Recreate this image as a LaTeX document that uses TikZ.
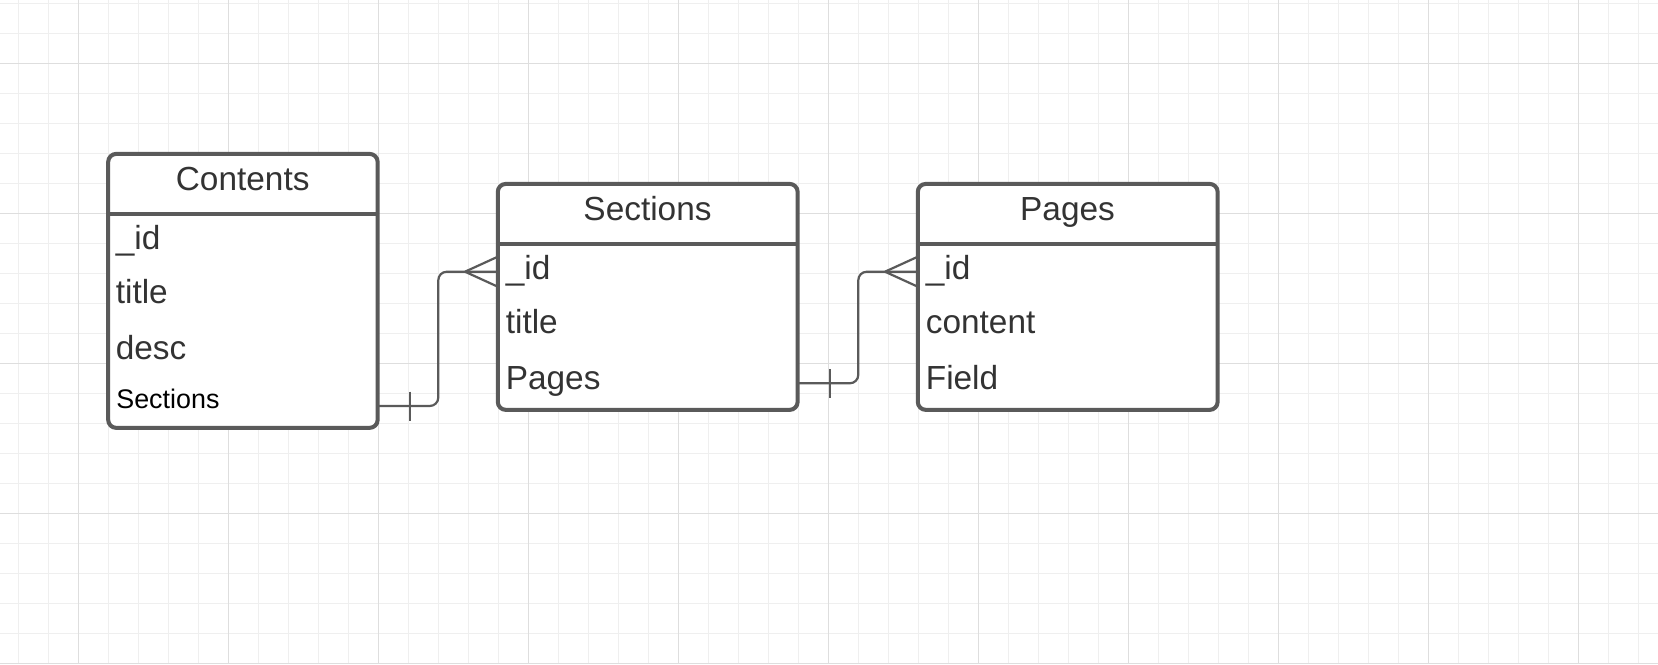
\documentclass[tikz,border=0pt]{standalone}
\usepackage{fontspec}
\setmainfont{Liberation Sans}
\definecolor{gridminor}{HTML}{EFEFEF}
\definecolor{gridmajor}{HTML}{DEDEDE}
\definecolor{edge}{HTML}{5A5A5A}
\definecolor{txt}{HTML}{333333}
\begin{document}
\begin{tikzpicture}[x=0.02cm,y=-0.02cm,
  minorline/.style={draw=gridminor,line width=0.57pt},
  majorline/.style={draw=gridmajor,line width=0.7pt},
  ebox/.style={draw=edge,line width=2.3pt,rounded corners=0.16cm,fill=white,inner sep=0pt,outer sep=0pt,anchor=north west},
  sepline/.style={draw=edge,line width=2.3pt},
  head/.style={font=\fontsize{19pt}{22pt}\selectfont,text=txt,inner sep=0pt,anchor=base},
  field/.style={font=\fontsize{19pt}{22pt}\selectfont,text=txt,inner sep=0pt,anchor=base west},
  smallfield/.style={font=\fontsize{15.3pt}{18pt}\selectfont,text=black,inner sep=0pt,anchor=base west},
  conn/.style={draw=edge,line width=1.25pt},
]
\useasboundingbox (0,0) rectangle (1658,664);
\fill[white] (0,0) rectangle (1658,664);
% grid
\foreach \k in {0,...,54} {\draw[minorline] ({18.3+30*\k},0) -- ({18.3+30*\k},664);}
\foreach \k in {0,...,22} {\draw[minorline] (0,{3.3+30*\k}) -- (1658,{3.3+30*\k});}
\foreach \k in {0,...,10} {\draw[majorline] ({78.3+150*\k},0) -- ({78.3+150*\k},664);}
\foreach \k in {0,...,4} {\draw[majorline] (0,{63.3+150*\k}) -- (1658,{63.3+150*\k});}

% Contents
\node[ebox,minimum width=5.39cm,minimum height=5.48cm] (contents) at (108.2,153.9) {};
\draw[sepline] (contents.west |- 0,213.7) -- (contents.east |- 0,213.7);
\node[head] (contentsT) at (242.7,190.7) {Contents};
\node[field] (cid) at (115.5,249) {\_id};
\node[field] (ctitle) at (115.5,303.3) {title};
\node[field] (cdesc) at (115.5,359.3) {desc};
\node[smallfield] (csec) at (116,408.3) {Sections};

% Sections
\node[ebox,minimum width=5.998cm,minimum height=4.52cm] (sections) at (497.8,183.9) {};
\draw[sepline] (sections.west |- 0,243.7) -- (sections.east |- 0,243.7);
\node[head] (sectionsT) at (647.5,220.7) {Sections};
\node[field] (sid) at (505.5,279) {\_id};
\node[field] (stitle) at (505.5,333.3) {title};
\node[field] (spages) at (505.5,389.3) {Pages};

% Pages
\node[ebox,minimum width=5.998cm,minimum height=4.52cm] (pages) at (917.8,183.9) {};
\draw[sepline] (pages.west |- 0,243.7) -- (pages.east |- 0,243.7);
\node[head] (pagesT) at (1067.5,220.7) {Pages};
\node[field] (pid) at (925.5,279) {\_id};
\node[field] (pcontent) at (925.5,333.3) {content};
\node[field] (pfield) at (925.5,389.3) {Field};

% connector Contents -> Sections
\coordinate (a0) at (contents.east |- 0,406);
\coordinate (a1) at (sections.west |- 0,271.7);
\draw[conn,rounded corners=0.17cm] (a0) -- (438.3,406) -- (438.3,271.7) -- (a1);
\coordinate (af) at (465,271.7);
\draw[conn] (af) -- (sections.west |- 0,256.7);
\draw[conn] (af) -- (sections.west |- 0,286.7);
\draw[conn] (410,391.7) -- (410,420.7);

% connector Sections -> Pages
\coordinate (b0) at (sections.east |- 0,383.3);
\coordinate (b1) at (pages.west |- 0,271.7);
\draw[conn,rounded corners=0.17cm] (b0) -- (858.3,383.3) -- (858.3,271.7) -- (b1);
\coordinate (bf) at (885,271.7);
\draw[conn] (bf) -- (pages.west |- 0,256.7);
\draw[conn] (bf) -- (pages.west |- 0,286.7);
\draw[conn] (830,369.3) -- (830,398.3);
\end{tikzpicture}
\end{document}
